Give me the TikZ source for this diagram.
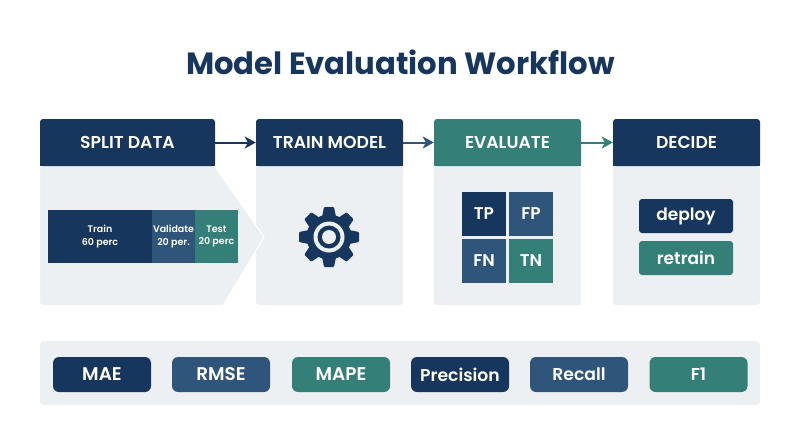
\documentclass[tikz,border=0pt]{standalone}
\usepackage{fontspec}
\usepackage{xcolor}
\setmainfont{Poppins}[BoldFont={Poppins SemiBold}]
\newfontfamily\titlefont{Poppins}
\usetikzlibrary{positioning, arrows.meta}
\definecolor{navy}{HTML}{17365D}
\definecolor{midblue}{HTML}{30557A}
\definecolor{teal}{HTML}{347F78}
\definecolor{panelgray}{HTML}{EDF0F3}
\tikzset{
  panel/.style={fill=panelgray, rounded corners=3pt, inner sep=0pt, minimum width=147pt, minimum height=186pt},
  head/.style={rounded corners=3pt, inner sep=0pt, minimum height=47pt, text=white, font=\fontsize{17.2}{17.2}\selectfont\bfseries},
  seg/.style={inner sep=0pt, minimum height=53pt, text=white, align=center, font=\fontsize{9.5}{12.5}\selectfont\bfseries},
  cell/.style={inner sep=0pt, minimum width=44pt, minimum height=44pt, text=white, font=\fontsize{17}{17}\selectfont\bfseries},
  choice/.style={rounded corners=3pt, inner sep=0pt, minimum width=94pt, minimum height=34pt, text=white, font=\fontsize{17}{17}\selectfont\bfseries},
  metric/.style={rounded corners=6pt, inner sep=0pt, minimum width=98pt, minimum height=35pt, text=white, font=\fontsize{17.2}{17.2}\selectfont\bfseries},
  capsmetric/.style={metric, font=\fontsize{18.4}{18.4}\selectfont\bfseries},
  flow/.style={line width=2pt, -{Stealth[length=11pt, width=12pt, inset=3pt]}},
}
\begin{document}
\begin{tikzpicture}[x=1pt, y=-1pt]
\useasboundingbox (0,0) rectangle (800,447);
\node[text=navy, inner sep=0pt, font=\fontsize{30.7}{31}\titlefont\bfseries] (title) at (400.5,62) {Model Evaluation Workflow};

\node[panel] (trainbody) at (329.5,212) {};
\node[panel] (evalbody) at (507.5,212) {};
\node[panel] (decidebody) at (686.5,212) {};
% the first panel runs out to a point over the second one
\filldraw[fill=panelgray, draw=white, line width=1pt] (39.5,150) [rounded corners=3pt] -- (39.5,305.5) [sharp corners] -- (223,305.5) -- (264,237) -- (214.5,166) -- (214.5,150) -- cycle;

\fill[navy] (40,150) rectangle (215,166); %square off the lower corners
\fill[navy] (256,150) rectangle (403,166);
\fill[teal] (434,150) rectangle (581,166);
\fill[navy] (613,150) rectangle (760,166);
\node[head, fill=navy, minimum width=175pt] (split) at (127.5,142.5) {SPLIT DATA};
\node[head, fill=navy, minimum width=147pt] (train) at (329.5,142.5) {TRAIN MODEL};
\node[head, fill=teal, minimum width=147pt] (evaluate) at (507.5,142.5) {EVALUATE};
\node[head, fill=navy, minimum width=147pt] (decide) at (686.5,142.5) {DECIDE};

\draw[flow, color=navy] (split.east) -- (train.west);
\draw[flow, color=midblue] (train.east) -- (evaluate.west);
\draw[flow, color=teal] (evaluate.east) -- (decide.west);

\node[seg, fill=navy, minimum width=104pt] (trainpart) at (100,236.5) {Train\\60 perc};
\node[seg, fill=midblue, minimum width=43pt] (validpart) at (173.5,236.5) {Validate\\20 per.};
\node[seg, fill=teal, minimum width=43pt] (testpart) at (216.5,236.5) {Test\\20 perc};

% gear
\fill[navy] (329,237) circle (22.5);
\fill[navy, rounded corners=1pt, shift={(329,237)}, rotate=0] (-7,-20) -- (-5,-30) -- (5,-30) -- (7,-20) -- cycle;
\fill[navy, rounded corners=1pt, shift={(329,237)}, rotate=45] (-7,-20) -- (-5,-30) -- (5,-30) -- (7,-20) -- cycle;
\fill[navy, rounded corners=1pt, shift={(329,237)}, rotate=90] (-7,-20) -- (-5,-30) -- (5,-30) -- (7,-20) -- cycle;
\fill[navy, rounded corners=1pt, shift={(329,237)}, rotate=135] (-7,-20) -- (-5,-30) -- (5,-30) -- (7,-20) -- cycle;
\fill[navy, rounded corners=1pt, shift={(329,237)}, rotate=180] (-7,-20) -- (-5,-30) -- (5,-30) -- (7,-20) -- cycle;
\fill[navy, rounded corners=1pt, shift={(329,237)}, rotate=225] (-7,-20) -- (-5,-30) -- (5,-30) -- (7,-20) -- cycle;
\fill[navy, rounded corners=1pt, shift={(329,237)}, rotate=270] (-7,-20) -- (-5,-30) -- (5,-30) -- (7,-20) -- cycle;
\fill[navy, rounded corners=1pt, shift={(329,237)}, rotate=315] (-7,-20) -- (-5,-30) -- (5,-30) -- (7,-20) -- cycle;
\fill[panelgray] (329,237) circle (15.5);
\fill[navy] (329,237) circle (11.5);
\fill[panelgray] (329,237) circle (7);

\node[cell, fill=navy] (tp) at (484,214) {TP};
\node[cell, fill=midblue] (fp) at (531,214) {FP};
\node[cell, fill=midblue] (fn) at (484,261) {FN};
\node[cell, fill=teal] (tn) at (531,261) {TN};

\node[choice, fill=navy] (deploy) at (686,216) {deploy};
\node[choice, fill=teal] (retrain) at (686,258) {retrain};

\node[fill=panelgray, rounded corners=4pt, inner sep=0pt, minimum width=720pt, minimum height=64pt] (band) at (400,373) {};
\node[capsmetric, fill=navy] (mae) at (102,374.5) {MAE};
\node[capsmetric, fill=midblue] (rmse) at (221,374.5) {RMSE};
\node[capsmetric, fill=teal] (mape) at (341,374.5) {MAPE};
\node[metric, fill=navy] (precision) at (460,374.5) {Precision};
\node[metric, fill=midblue] (recall) at (579,374.5) {Recall};
\node[metric, fill=teal] (fone) at (698.5,374.5) {F1};
\end{tikzpicture}
\end{document}
